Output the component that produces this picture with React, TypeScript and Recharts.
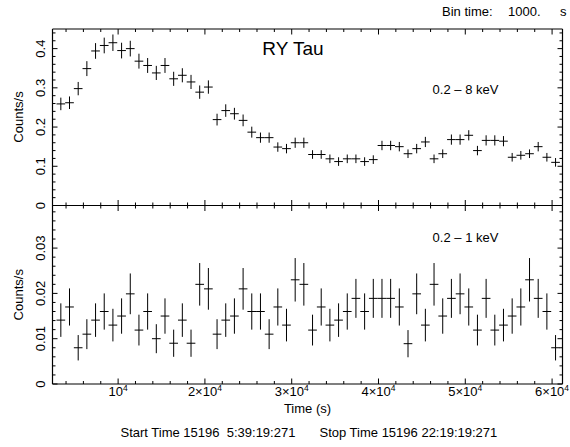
import React from 'react';
import { ComposedChart, Scatter, ErrorBar, XAxis, YAxis } from 'recharts';

// bin centres (s), bin time 1000 s
const binTime = [
  3400, 4400, 5400, 6400, 7400, 8400, 9400, 10400, 11400, 12400,
  13400, 14400, 15400, 16400, 17400, 18400, 19400, 20400, 21400, 22400,
  23400, 24400, 25400, 26400, 27400, 28400, 29400, 30400, 31400, 32400,
  33400, 34400, 35400, 36400, 37400, 38400, 39400, 40400, 41400, 42400,
  43400, 44400, 45400, 46400, 47400, 48400, 49400, 50400, 51400, 52400,
  53400, 54400, 55400, 56400, 57400, 58400, 59400, 60400,
];
const halfBin = 500;

// 0.2 - 8 keV
const hardRate = [
  0.259, 0.262, 0.298, 0.349, 0.394, 0.408, 0.415, 0.395, 0.400, 0.368,
  0.357, 0.338, 0.357, 0.323, 0.332, 0.315, 0.289, 0.302, 0.219, 0.242,
  0.234, 0.217, 0.187, 0.173, 0.173, 0.149, 0.145, 0.160, 0.160, 0.130,
  0.130, 0.119, 0.112, 0.119, 0.119, 0.112, 0.117, 0.153, 0.153, 0.150,
  0.132, 0.145, 0.162, 0.119, 0.132, 0.168, 0.168, 0.179, 0.140, 0.166,
  0.166, 0.164, 0.123, 0.128, 0.132, 0.150, 0.123, 0.110,
];
const hardErr = [
  0.016, 0.016, 0.017, 0.019, 0.020, 0.020, 0.021, 0.020, 0.020, 0.019,
  0.019, 0.018, 0.019, 0.018, 0.018, 0.018, 0.017, 0.017, 0.015, 0.016,
  0.015, 0.015, 0.014, 0.013, 0.013, 0.012, 0.012, 0.013, 0.013, 0.011,
  0.011, 0.011, 0.011, 0.011, 0.011, 0.011, 0.011, 0.012, 0.012, 0.012,
  0.011, 0.012, 0.013, 0.011, 0.011, 0.013, 0.013, 0.013, 0.012, 0.013,
  0.013, 0.013, 0.011, 0.011, 0.011, 0.012, 0.011, 0.011,
];

// 0.2 - 1 keV
const softRate = [
  0.0141, 0.0170, 0.0080, 0.0110, 0.0141, 0.0160, 0.0130, 0.0150, 0.0199, 0.0119,
  0.0160, 0.0100, 0.0150, 0.0090, 0.0141, 0.0090, 0.0220, 0.0210, 0.0110, 0.0141,
  0.0150, 0.0210, 0.0160, 0.0160, 0.0110, 0.0170, 0.0130, 0.0230, 0.0220, 0.0119,
  0.0170, 0.0130, 0.0141, 0.0160, 0.0189, 0.0160, 0.0189, 0.0189, 0.0189, 0.0170,
  0.0089, 0.0199, 0.0130, 0.0220, 0.0150, 0.0189, 0.0199, 0.0170, 0.0119, 0.0189,
  0.0119, 0.0130, 0.0150, 0.0170, 0.0230, 0.0189, 0.0160, 0.0080,
];
const softErr = [
  0.0037, 0.0041, 0.0028, 0.0033, 0.0037, 0.0040, 0.0036, 0.0039, 0.0045, 0.0034,
  0.0040, 0.0032, 0.0039, 0.0030, 0.0037, 0.0030, 0.0047, 0.0046, 0.0033, 0.0037,
  0.0039, 0.0046, 0.0040, 0.0040, 0.0033, 0.0041, 0.0036, 0.0048, 0.0047, 0.0034,
  0.0041, 0.0036, 0.0037, 0.0040, 0.0043, 0.0040, 0.0043, 0.0043, 0.0043, 0.0041,
  0.0030, 0.0045, 0.0036, 0.0047, 0.0039, 0.0043, 0.0045, 0.0041, 0.0034, 0.0043,
  0.0034, 0.0036, 0.0039, 0.0041, 0.0048, 0.0043, 0.0040, 0.0028,
];

const xDomain = [2440, 61200];
const xTicks = [
  4000, 6000, 8000, 10000, 12000, 14000, 16000, 18000, 20000, 22000,
  24000, 26000, 28000, 30000, 32000, 34000, 36000, 38000, 40000, 42000,
  44000, 46000, 48000, 50000, 52000, 54000, 56000, 58000, 60000,
];
const xMajor = [10000, 20000, 30000, 40000, 50000, 60000];
const xLabelBase = ['10', '2×10', '3×10', '4×10', '5×10', '6×10'];

const hardDomain = [0, 0.45];
const hardTicks = [
  0, 0.02, 0.04, 0.06, 0.08, 0.1, 0.12, 0.14, 0.16, 0.18, 0.2, 0.22,
  0.24, 0.26, 0.28, 0.3, 0.32, 0.34, 0.36, 0.38, 0.4, 0.42, 0.44,
];
const hardMajor = [0, 0.1, 0.2, 0.3, 0.4];
const hardLabels = ['0', '0.1', '0.2', '0.3', '0.4'];

const softDomain = [0, 0.0394];
const softTicks = [
  0, 0.002, 0.004, 0.006, 0.008, 0.01, 0.012, 0.014, 0.016, 0.018,
  0.02, 0.022, 0.024, 0.026, 0.028, 0.03, 0.032, 0.034, 0.036, 0.038,
];
const softMajor = [0, 0.01, 0.02, 0.03];
const softLabels = ['0', '0.01', '0.02', '0.03'];

const FONT = '"Liberation Sans", Arial, Helvetica, sans-serif';
const AXIS = { stroke: '#000', strokeWidth: 1.2 };

const hardRows = binTime.map((t, i) => ({ t, v: hardRate[i], ex: halfBin, ey: hardErr[i] }));
const softRows = binTime.map((t, i) => ({ t, v: softRate[i], ex: halfBin, ey: softErr[i] }));

const majorIndex = (v: number, majors: number[]) => majors.findIndex((m) => Math.abs(m - v) < 1e-9);

const XTick = (props: any) => {
  const { x, y, payload, side, showLabel } = props;
  const idx = majorIndex(payload.value, xMajor);
  const len = idx >= 0 ? 5.5 : 3;
  const dir = side === 'top' ? 1 : -1;
  return (
    <g>
      <line x1={x} x2={x} y1={y} y2={y + dir * len} stroke="#000" strokeWidth={1} />
      {showLabel && idx >= 0 && (
        <text x={x} y={y + 11.5} textAnchor="middle" fontSize={13} fontFamily={FONT} fill="#000">
          {xLabelBase[idx]}
          <tspan fontSize={8.5} dy={-5}>4</tspan>
        </text>
      )}
    </g>
  );
};

const YTick = (props: any) => {
  const { x, y, payload, side, majors, labels } = props;
  const idx = majorIndex(payload.value, majors);
  const len = idx >= 0 ? 5 : 3;
  const dir = side === 'left' ? 1 : -1;
  const lx = x - 7.5;
  return (
    <g>
      <line x1={x} x2={x + dir * len} y1={y} y2={y} stroke="#000" strokeWidth={1} />
      {side === 'left' && idx >= 0 && (
        <text x={lx} y={y} transform={`rotate(-90, ${lx}, ${y})`} textAnchor="middle" fontSize={13} fontFamily={FONT} fill="#000">
          {labels[idx]}
        </text>
      )}
    </g>
  );
};

const noDot = () => <g />;

const Panel = ({ rows, yDomain, yTicks, majors, labels, height, topH, bottomH, showXLabels }: any) => (
  <ComposedChart width={570} height={height} data={rows} margin={{ top: 0, right: 0, bottom: 0, left: 0 }}>
    <XAxis xAxisId="b" dataKey="t" type="number" domain={xDomain} allowDataOverflow ticks={xTicks} interval={0}
      height={bottomH} tickSize={0} tickMargin={0} axisLine={AXIS} tickLine={false}
      tick={(p: any) => <XTick {...p} side="bottom" showLabel={showXLabels} />} />
    <XAxis xAxisId="t" orientation="top" dataKey="t" type="number" domain={xDomain} allowDataOverflow ticks={xTicks} interval={0}
      height={topH} tickSize={0} tickMargin={0} axisLine={AXIS} tickLine={false}
      tick={(p: any) => <XTick {...p} side="top" />} />
    <YAxis yAxisId="l" dataKey="v" type="number" domain={yDomain} allowDataOverflow ticks={yTicks} interval={0}
      width={52.5} tickSize={0} tickMargin={0} axisLine={AXIS} tickLine={false}
      tick={(p: any) => <YTick {...p} side="left" majors={majors} labels={labels} />} />
    <YAxis yAxisId="r" orientation="right" dataKey="v" type="number" domain={yDomain} allowDataOverflow ticks={yTicks} interval={0}
      width={7.5} tickSize={0} tickMargin={0} axisLine={AXIS} tickLine={false}
      tick={(p: any) => <YTick {...p} side="right" majors={majors} labels={labels} />} />
    <Scatter xAxisId="b" yAxisId="l" dataKey="v" isAnimationActive={false} shape={noDot}>
      <ErrorBar dataKey="ex" direction="x" width={0} stroke="#000" strokeWidth={1} isAnimationActive={false} />
      <ErrorBar dataKey="ey" direction="y" width={0} stroke="#000" strokeWidth={1} isAnimationActive={false} />
    </Scatter>
  </ComposedChart>
);

const txt = { fontFamily: FONT, fill: '#000' };

export default function App() {
  return (
    <div style={{ position: 'absolute', left: 0, top: 0, width: 570, height: 447, background: '#fff' }}>
      <div style={{ position: 'absolute', left: 0, top: 0 }}>
        <Panel rows={hardRows} yDomain={hardDomain} yTicks={hardTicks} majors={hardMajor} labels={hardLabels}
          height={216} topH={29} bottomH={10.5} showXLabels={false} />
      </div>
      <div style={{ position: 'absolute', left: 0, top: 0 }}>
        <Panel rows={softRows} yDomain={softDomain} yTicks={softTicks} majors={softMajor} labels={softLabels}
          height={447} topH={205.5} bottomH={63} showXLabels />
      </div>
      <svg width={570} height={447} style={{ position: 'absolute', left: 0, top: 0, pointerEvents: 'none' }}>
        <text x={442} y={16} fontSize={13} {...txt}>Bin time:</text>
        <text x={508} y={16} fontSize={13} {...txt}>1000.</text>
        <text x={560} y={16} fontSize={13} {...txt}>s</text>
        <text x={293} y={55} fontSize={19} textAnchor="middle" {...txt}>RY Tau</text>
        <text x={465.5} y={94} fontSize={13} textAnchor="middle" {...txt}>0.2 – 8 keV</text>
        <text x={465.5} y={241.5} fontSize={13} textAnchor="middle" {...txt}>0.2 – 1 keV</text>
        <text x={23} y={117} fontSize={13} textAnchor="middle" transform="rotate(-90, 23, 117)" {...txt}>Counts/s</text>
        <text x={23} y={294.75} fontSize={13} textAnchor="middle" transform="rotate(-90, 23, 294.75)" {...txt}>Counts/s</text>
        <text x={307.5} y={413} fontSize={13} textAnchor="middle" {...txt}>Time (s)</text>
        <text x={120.5} y={437} fontSize={13} xmlSpace="preserve" style={{ whiteSpace: 'pre' }} {...txt}>Start Time 15196  5:39:19:271</text>
        <text x={319.5} y={437} fontSize={13} xmlSpace="preserve" style={{ whiteSpace: 'pre' }} {...txt}>Stop Time 15196 22:19:19:271</text>
      </svg>
    </div>
  );
}
